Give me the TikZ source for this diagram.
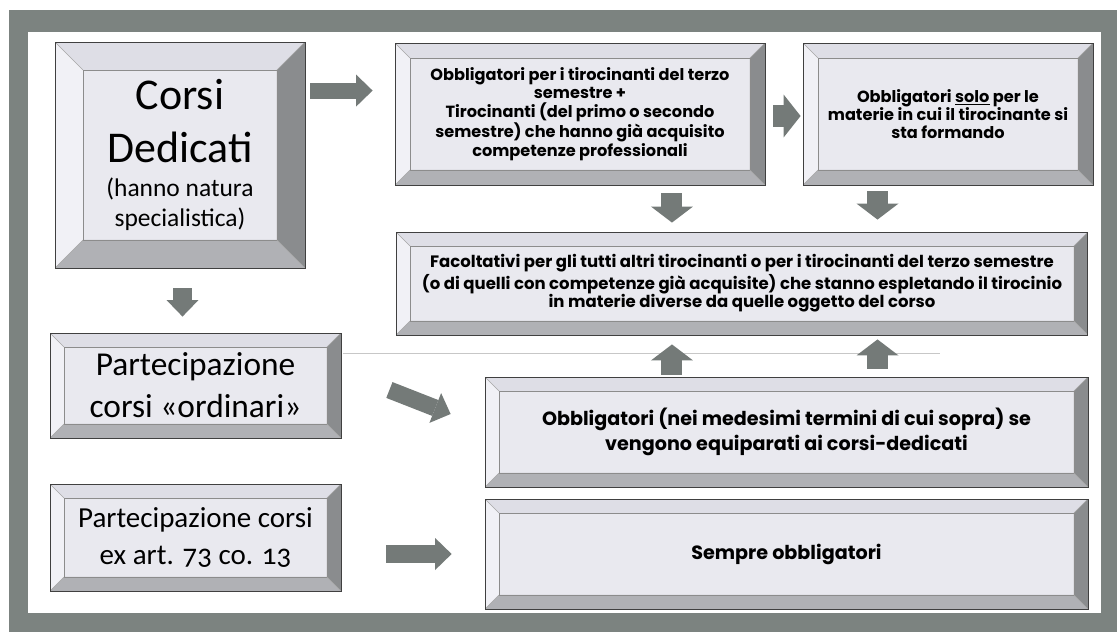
\documentclass[tikz,border=0pt]{standalone}
\usepackage{fontspec}
\setmainfont{Carlito}[Numbers=OldStyle]
\newfontfamily\geofont{Poppins}
\usetikzlibrary{arrows.meta,calc}

\definecolor{framegray}{RGB}{124,131,128}
\definecolor{arrowgray}{RGB}{116,122,120}
\definecolor{bvface}{RGB}{233,233,239}
\definecolor{bvtop}{RGB}{222,222,230}
\definecolor{bvleft}{RGB}{241,241,246}
\definecolor{bvright}{RGB}{138,140,142}
\definecolor{bvbottom}{RGB}{176,177,181}

\tikzset{
  bevelw/.store in=\bevw, bevelw=0.28cm,
  bevelbox/.style={draw=black!75, line width=0.5pt, fill=bvface, inner sep=0pt, align=center,
    path picture={
      % four bevel faces
      \fill[bvleft] (path picture bounding box.south west) -- (path picture bounding box.north west)
        -- ([shift={(\bevw,-\bevw)}]path picture bounding box.north west)
        -- ([shift={(\bevw,\bevw)}]path picture bounding box.south west) -- cycle;
      \fill[bvtop] (path picture bounding box.north west) -- (path picture bounding box.north east)
        -- ([shift={(-\bevw,-\bevw)}]path picture bounding box.north east)
        -- ([shift={(\bevw,-\bevw)}]path picture bounding box.north west) -- cycle;
      \fill[bvright] (path picture bounding box.north east) -- (path picture bounding box.south east)
        -- ([shift={(-\bevw,\bevw)}]path picture bounding box.south east)
        -- ([shift={(-\bevw,-\bevw)}]path picture bounding box.north east) -- cycle;
      \fill[bvbottom] (path picture bounding box.south east) -- (path picture bounding box.south west)
        -- ([shift={(\bevw,\bevw)}]path picture bounding box.south west)
        -- ([shift={(-\bevw,\bevw)}]path picture bounding box.south east) -- cycle;
      % inner face edges
      \draw[black!45, line width=0.3pt]
        ([shift={(\bevw,\bevw)}]path picture bounding box.south west) rectangle
        ([shift={(-\bevw,-\bevw)}]path picture bounding box.north east);
      \draw[black!35, line width=0.3pt]
        (path picture bounding box.south west) -- ++(\bevw,\bevw)
        (path picture bounding box.north west) -- ++(\bevw,-\bevw)
        (path picture bounding box.north east) -- ++(-\bevw,-\bevw)
        (path picture bounding box.south east) -- ++(-\bevw,\bevw);
    }},
  geosmall/.style={font=\geofont\bfseries\fontsize{9.2}{10.4}\selectfont},
  geobig/.style={font=\geofont\bfseries\fontsize{10.9}{14}\selectfont},
  blockarr/.style={draw=arrowgray, line width=0.42cm,
    -{Triangle[length=0.32cm, width=0.84cm, line width=0pt]}},
  slimarr/.style={draw=arrowgray, line width=0.32cm,
    -{Triangle[length=0.33cm, width=0.64cm, line width=0pt]}},
}

\begin{document}
\begin{tikzpicture}[x=0.02cm, y=-0.02cm]

\useasboundingbox (0,0) rectangle (1117,632);

% frame of the slide
\fill[white] (0,0) rectangle (1117,632);
\fill[framegray] (9,10) rectangle (1117,632);
\fill[white] (28,32) rectangle (1101,613);
\draw[black!22, line width=0.4pt] (343,353) -- (940,353);

% left column
\node[bevelbox, bevelw=0.56cm, minimum width=5cm, minimum height=4.52cm,
  font=\fontsize{25}{30}\selectfont] (corsi) at (180,155)
  {Corsi\\Dedicati\\[-10.7pt]\fontsize{14.5}{17}\selectfont(hanno natura\\[-13pt]\fontsize{14.5}{17}\selectfont specialistica)};
\node[bevelbox, minimum width=5.82cm, minimum height=2.1cm,
  font=\fontsize{19}{24}\selectfont] (ordinari) at (195.5,385.5)
  {Partecipazione\\corsi «ordinari»};
\node[bevelbox, minimum width=5.82cm, minimum height=2.14cm,
  font=\fontsize{16.5}{20.5}\selectfont] (exart) at (195.5,537.5)
  {Partecipazione corsi\\ex art. 73 co. 13};

% top row
\node[bevelbox, bevelw=0.3cm, minimum width=7.4cm, minimum height=2.84cm, geosmall] (topmid) at (580,114)
  {Obbligatori per i tirocinanti del terzo\\semestre +\\Tirocinanti (del primo o secondo\\semestre) che hanno già acquisito\\competenze professionali};
\node[bevelbox, bevelw=0.3cm, minimum width=5.8cm, minimum height=2.84cm, geosmall] (topright) at (948,114)
  {Obbligatori \underline{solo} per le\\materie in cui il tirocinante si\\sta formando};

% middle and bottom rows
\node[bevelbox, minimum width=13.84cm, minimum height=2.06cm, geosmall,
  font=\geofont\bfseries\fontsize{9.4}{10.6}\selectfont] (facolt) at (742,283.5)
  {Facoltativi per gli tutti altri tirocinanti o per i tirocinanti del terzo semestre\\(o di quelli con competenze già acquisite) che stanno espletando il tirocinio\\in materie diverse da quelle oggetto del corso};
\node[bevelbox, minimum width=12.06cm, minimum height=2.2cm, geobig] (equip) at (786.5,432)
  {Obbligatori (nei medesimi termini di cui sopra) se\\vengono equiparati ai corsi-dedicati};
\node[bevelbox, minimum width=12.06cm, minimum height=2.2cm, geobig] (sempre) at (786.5,554)
  {Sempre obbligatori};

% block arrows
\coordinate (a1) at ($(topmid.north west)+(0,-0.96cm)$);
\draw[slimarr, shorten <=0.1cm, shorten >=0.44cm] (corsi.east |- a1) -- (a1);
\coordinate (a2) at ([yshift=-0.04cm]topmid.east);
\draw[blockarr, line width=0.44cm, -{Triangle[length=0.34cm, width=0.86cm, line width=0pt]},
  shorten <=0.16cm, shorten >=0.04cm] (a2) -- (a2 -| topright.west);
\coordinate (a3) at ([xshift=1.84cm]topmid.south);
\coordinate (a4) at ([xshift=-1.41cm]topright.south);
\draw[blockarr, shorten <=0.16cm, shorten >=0.18cm] (a3) -- (a3 |- facolt.north);
\draw[blockarr, shorten <=0.12cm, shorten >=0.24cm] (a4) -- (a4 |- facolt.north);
\draw[blockarr, shorten <=0.04cm, shorten >=0.18cm] (a3 |- equip.north) -- (a3 |- facolt.south);
\draw[blockarr, shorten <=0.16cm, shorten >=0.08cm] (a4 |- equip.north) -- (a4 |- facolt.south);
\coordinate (a6) at ([xshift=0.05cm]corsi.south);
\draw[slimarr, line width=0.38cm, shorten <=0.4cm, shorten >=0.32cm] (a6) -- (a6 |- ordinari.north);
\draw[slimarr, line width=0.34cm] ([xshift=0.96cm,yshift=-0.09cm]ordinari.east)
  -- ([xshift=-0.68cm,yshift=0.36cm]equip.west);
\draw[slimarr, line width=0.36cm, shorten <=0.9cm, shorten >=0.66cm] (exart.east |- sempre.west) -- (sempre.west);

\end{tikzpicture}
\end{document}
